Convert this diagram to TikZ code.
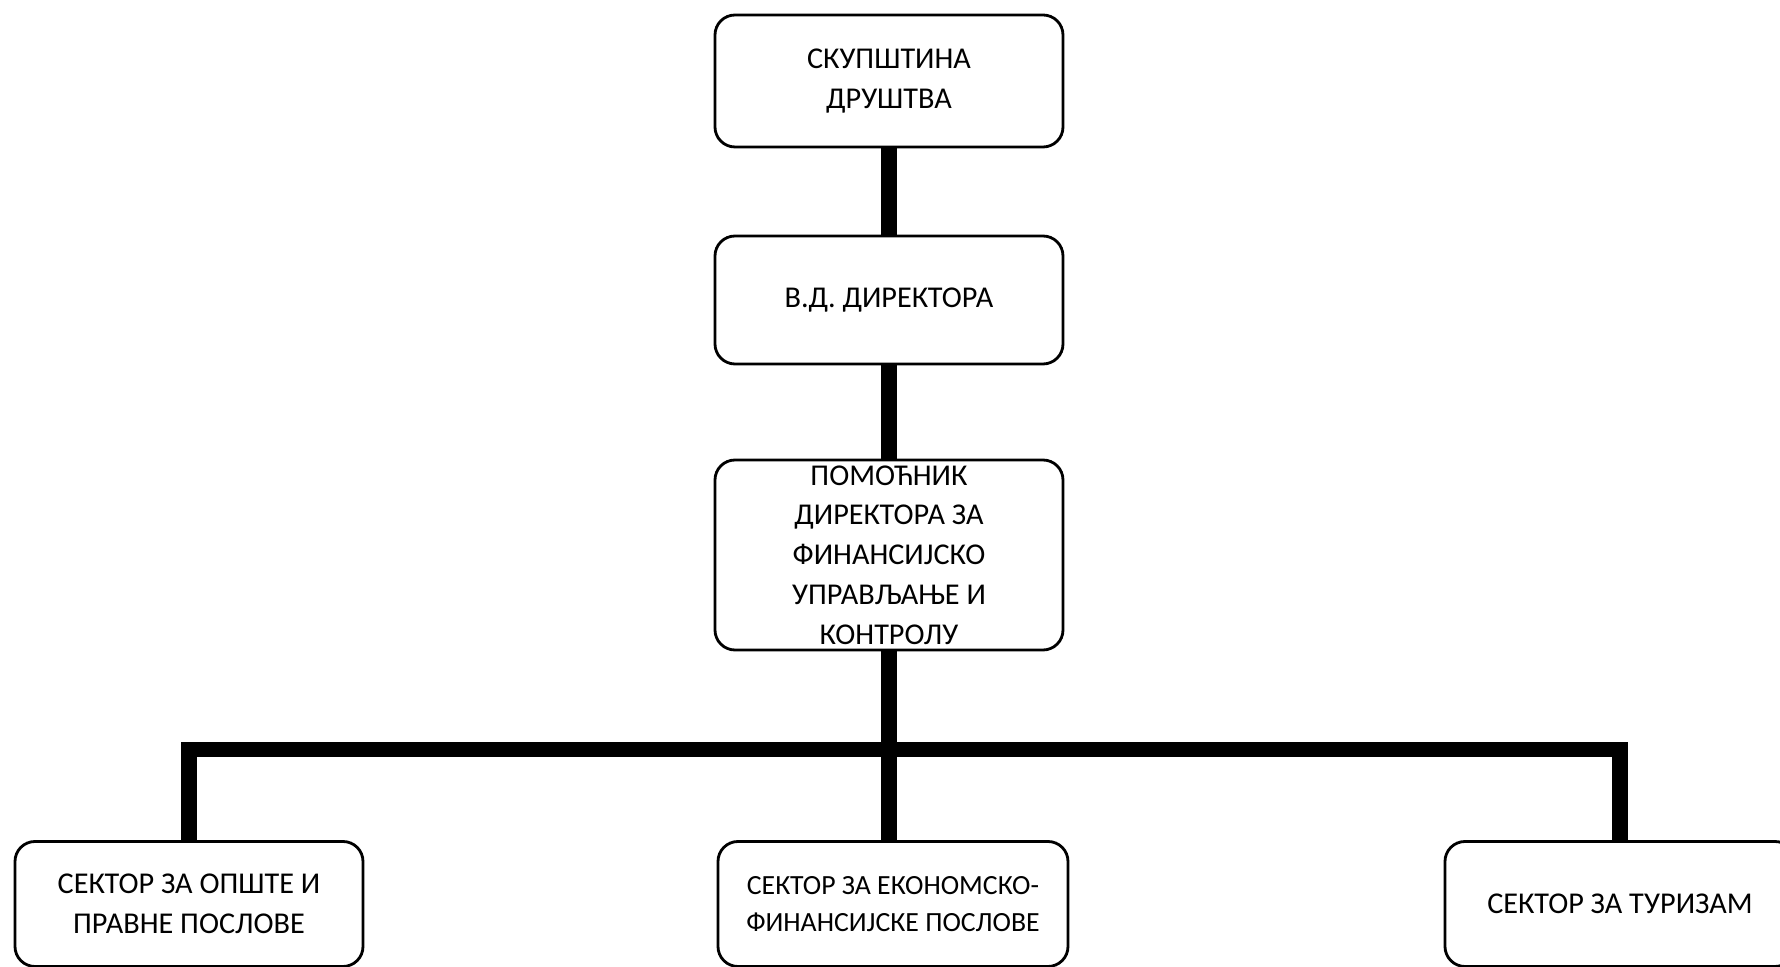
\documentclass[tikz,border=0pt]{standalone}
\usepackage{fontspec}
\setmainfont{Carlito}
\usepackage{tikz}

\begin{document}
\begin{tikzpicture}
  \tikzset{UnitStyle/.style = {
  shape = rectangle,
  rounded corners = 0.2cm,
  fill = white,
  line width = 0.8pt,
  align = center,
  inner sep = 0pt,
  minimum width = 3.48cm,
  font = \fontsize{8.6}{11.3}\selectfont,
  draw},
  BarStyle/.style = {line width = 4.3pt}}
  \useasboundingbox (0,0) rectangle (17.8,9.67);
  \node[UnitStyle, minimum height=1.32cm] (skupstina) at (8.89,8.86) {СКУПШТИНА\\ДРУШТВА};
  \node[UnitStyle, minimum height=1.28cm] (direktor) at (8.89,6.67) {В.Д. ДИРЕКТОРА};
  \node[UnitStyle, minimum height=1.90cm] (pomocnik) at (8.89,4.12)
    {ПОМОЋНИК\\ДИРЕКТОРА ЗА\\ФИНАНСИЈСКО\\УПРАВЉАЊЕ И\\КОНТРОЛУ};
  \begin{scope}[every node/.append style={minimum height=1.25cm}]
    \node[UnitStyle] (opsti) at (1.89,0.63) {СЕКТОР ЗА ОПШТЕ И\\ПРАВНЕ ПОСЛОВЕ};
    \node[UnitStyle, minimum width=3.5cm, font=\fontsize{7.9}{10.4}\selectfont] (ekonomski) at (8.93,0.63)
      {СЕКТОР ЗА ЕКОНОМСКО-\\ФИНАНСИЈСКЕ ПОСЛОВЕ};
    \node[UnitStyle, minimum width=3.5cm] (turizam) at (16.20,0.63) {СЕКТОР ЗА ТУРИЗАМ};
  \end{scope}
  \coordinate (bus) at (8.91,2.175);
  \draw[BarStyle] (skupstina.south) -- (direktor.north);
  \draw[BarStyle] (direktor.south) -- (pomocnik.north);
  \draw[BarStyle] (pomocnik.south) -- (ekonomski.north -| pomocnik.south);
  \draw[BarStyle] (opsti.north) |- (bus) -| (turizam.north);
\end{tikzpicture}
\end{document}
